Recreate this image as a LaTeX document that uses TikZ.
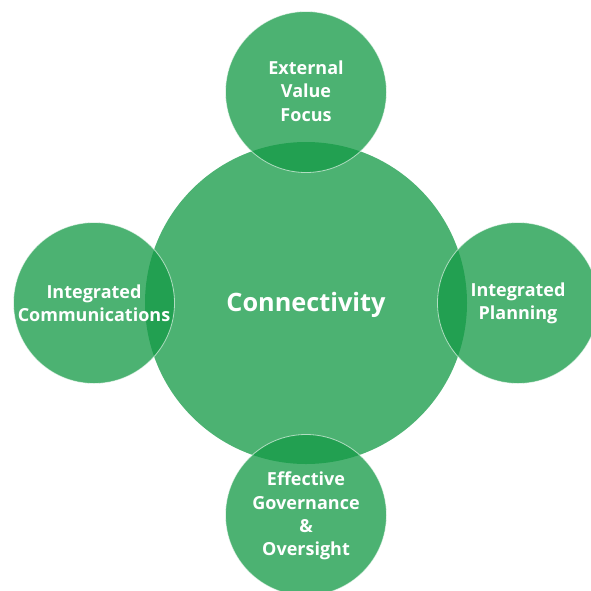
\documentclass[tikz,border=0pt]{standalone}
\usepackage{fontspec}
\setmainfont{Open Sans}
\begin{document}
\begin{tikzpicture}[x=1pt,y=-1pt]
\definecolor{circgreen}{RGB}{20,154,70}
\tikzset{
  bigcirc/.style={circle,fill=circgreen,fill opacity=0.76,minimum size=322pt,inner sep=0pt},
  smallcirc/.style={circle,fill=circgreen,fill opacity=0.76,draw=white,draw opacity=0.6,line width=0.8pt,minimum size=161pt,inner sep=0pt},
  lbl/.style={text=white,font=\bfseries\fontsize{18}{23.3}\selectfont,align=center,text opacity=1},
  biglbl/.style={text=white,font=\bfseries\fontsize{25.3}{30}\selectfont,text opacity=1}
}
\path[use as bounding box] (0,0) rectangle (591,590);
\begin{scope}
\clip (0,0) rectangle (591,590);
\node[bigcirc] (main) at (306,303) {};
\node[smallcirc] (top) at (306,92) {};
\node[smallcirc] (left) at (94,303) {};
\node[smallcirc] (right) at (518,303) {};
\node[smallcirc] (bottom) at (306,515) {};
\end{scope}
\node[biglbl] (tmain) at (306,305) {Connectivity};
\node[lbl] (ttop) at (306,91) {External\\Value\\Focus};
\node[lbl] (tleft) at (94,303) {Integrated\\Communications};
\node[lbl] (tright) at (518,303) {Integrated\\Planning};
\node[lbl] (tbottom) at (306,516) {Effective\\Governance\\\&\\Oversight};
\end{tikzpicture}
\end{document}
